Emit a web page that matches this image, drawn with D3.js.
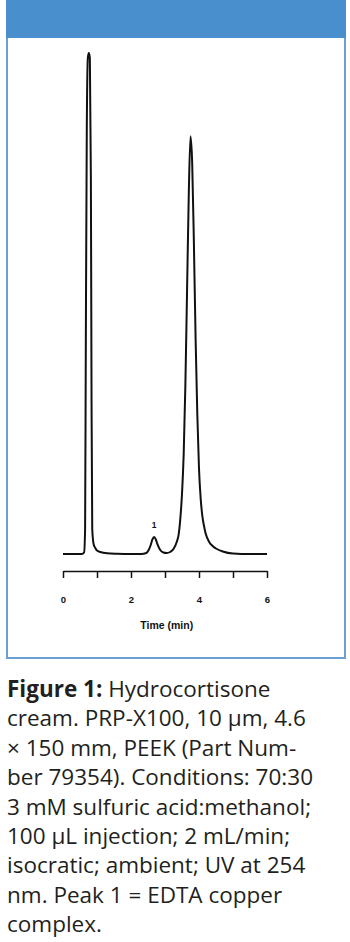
<!DOCTYPE html>
<meta charset="utf-8">
<head>
<style>
body { margin: 0; background: #fff; }
.trace { fill: none; stroke: #111; stroke-width: 2px; stroke-linejoin: round; }
.axis path, .axis line { stroke: #111; stroke-width: 1.5px; }
.axis text { font-family: "Liberation Sans", Arial, sans-serif; font-weight: bold; font-size: 9.5px; fill: #111; }
.caption { font-family: "Open Sans", sans-serif; font-size: 22.5px; fill: #231f20; }
</style>
<script src="https://d3js.org/d3.v7.min.js"></script>
</head>
<body>
<script>

// chromatogram: time (min) and detector signal (first peak = 100)
var times   = [0, 0.55, 0.62, 0.65, 0.67, 0.70, 0.73, 0.76, 0.79, 0.82, 0.84, 0.86, 0.90, 0.95, 1.0, 1.1, 1.3, 1.6, 2.0,
               2.3, 2.45, 2.52, 2.58, 2.63, 2.68, 2.73, 2.78, 2.85, 2.95, 3.05, 3.15,
               3.25, 3.35, 3.40, 3.45, 3.50, 3.55, 3.60, 3.65, 3.70, 3.75, 3.80, 3.85, 3.90, 3.95, 4.0, 4.05, 4.1, 4.15,
               4.2, 4.3, 4.4, 4.5, 4.7, 5.0, 5.5, 6.0];
var signal  = [0, 0, 0.3, 5, 40, 85, 99, 100, 99, 75, 30, 5, 2, 1.2, 0.7, 0.4, 0.15, 0.05, 0,
               0, 0.2, 0.8, 1.8, 2.9, 3.4, 2.9, 1.9, 0.9, 0.3, 0.2, 0.4,
               1.0, 2.5, 3.8, 7, 12, 20, 34, 53, 72, 83.4, 78, 62, 43, 28, 17, 11, 7.5, 5.5,
               4, 2.4, 1.6, 1.1, 0.5, 0.1, 0, 0];
var tickValues = [0, 1, 2, 3, 4, 5, 6];
var tickLabels = ["0", "", "2", "", "4", "", "6"];
var peakLabels = [{t: 2.68, v: 3.4, text: "1"}];
var axisTitle = "Time (min)";
var captionLines = [
  [["Figure 1: ", true], ["Hydrocortisone", false]],
  [["cream. PRP-X100, 10 \u03bcm, 4.6", false]],
  [["\u00d7 150 mm, PEEK (Part Num-", false]],
  [["ber 79354). Conditions: 70:30", false]],
  [["3 mM sulfuric acid:methanol;", false]],
  [["100 \u03bcL injection; 2 mL/min;", false]],
  [["isocratic; ambient; UV at 254", false]],
  [["nm. Peak 1 = EDTA copper", false]],
  [["complex.", false]]
];

var W = 350, H = 942;
var svg = d3.select("body").append("svg").attr("width", W).attr("height", H);

// frame with the blue header
svg.append("rect").attr("x", 7).attr("y", 1).attr("width", 338).attr("height", 657)
  .attr("fill", "#fff").attr("stroke", "#6a9fd6").attr("stroke-width", 2);
svg.append("rect").attr("x", 6).attr("y", 0).attr("width", 340).attr("height", 38)
  .attr("fill", "#4a8fcd");

var x = d3.scaleLinear().domain([0, 6]).range([63, 267]);
var y = d3.scaleLinear().domain([0, 100]).range([554, 53]);

var data = times.map(function(t, i) { return {t: t, v: signal[i]}; });

var line = d3.line()
  .curve(d3.curveMonotoneX)
  .x(function(d) { return x(d.t); })
  .y(function(d) { return y(d.v); });

svg.append("path").datum(data).attr("class", "trace").attr("d", line);

svg.selectAll(".peak").data(peakLabels).enter().append("text")
  .attr("class", "peak")
  .attr("x", function(d) { return x(d.t); })
  .attr("y", function(d) { return y(d.v) - 9; })
  .attr("text-anchor", "middle")
  .style("font-family", "Liberation Sans, Arial, sans-serif")
  .style("font-weight", "bold")
  .style("font-size", "8.5px")
  .attr("fill", "#111")
  .text(function(d) { return d.text; });

// time axis
svg.append("g")
  .attr("class", "axis")
  .attr("transform", "translate(0,571)")
  .call(d3.axisBottom(x)
    .tickValues(tickValues)
    .tickSize(7)
    .tickSizeOuter(0)
    .tickPadding(18)
    .tickFormat(function(d, i) { return tickLabels[i]; }));

svg.append("text")
  .attr("x", x(3.05)).attr("y", 629)
  .attr("text-anchor", "middle")
  .style("font-family", "Liberation Sans, Arial, sans-serif")
  .style("font-weight", "bold")
  .style("font-size", "10.5px")
  .attr("fill", "#111")
  .text(axisTitle);

// caption
var cap = svg.append("text").attr("class", "caption");
captionLines.forEach(function(parts, i) {
  parts.forEach(function(p, j) {
    var ts = cap.append("tspan").text(p[0]);
    if (j === 0) ts.attr("x", 7).attr("y", 697 + i * 29.4);
    if (p[1]) ts.style("font-weight", "bold");
  });
});

</script>
</body>
